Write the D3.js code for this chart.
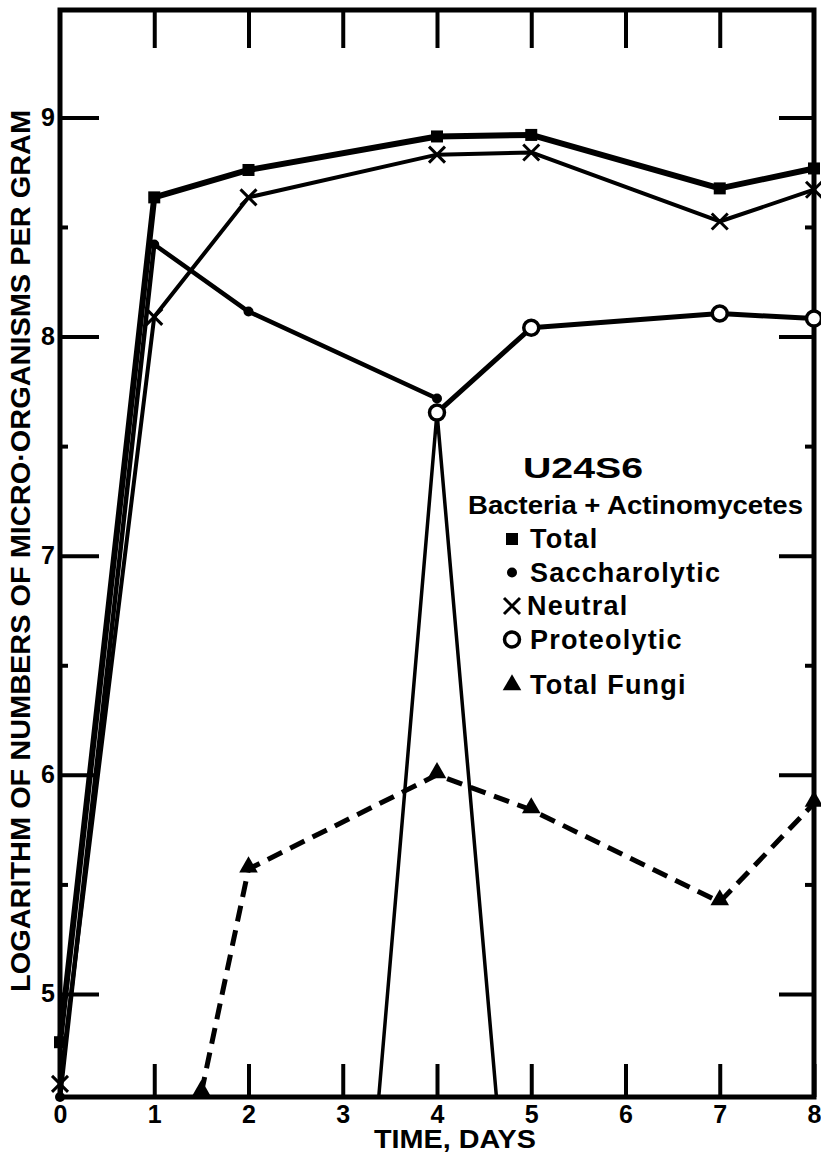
<!DOCTYPE html>
<html>
<head>
<meta charset="utf-8">
<script src="https://cdn.jsdelivr.net/npm/d3@7"></script>
<style>
  body { margin: 0; background: #fff; }
  svg text { font-family: 'Liberation Sans', Arial, sans-serif; font-weight: bold; fill: #000; }
</style>
</head>
<body>
<svg id="chart" width="821" height="1153"></svg>
<script>
// values (log10 numbers per gram)
var days_bact = [0, 1, 2, 4, 5, 7, 8];
var total = [4.78, 8.635, 8.76, 8.913, 8.92, 8.676, 8.767];
var neutral = [4.59, 8.09, 8.635, 8.83, 8.84, 8.525, 8.67];
var days_sacch = [0, 1, 2, 4];
var saccharolytic = [4.53, 8.42, 8.114, 7.717];
var days_proteo = [4, 5, 7, 8];
var proteolytic = [7.653, 8.04, 8.105, 8.082];
var days_spike = [3, 4, 5];
var spike = [2.6, 7.653, 2.7];
var days_fungi = [1.5, 2, 4, 5, 7, 8];
var fungi = [4.55, 5.57, 6.0, 5.84, 5.42, 5.87];

var x_ticks = [0, 1, 2, 3, 4, 5, 6, 7, 8];
var y_major = [5, 6, 7, 8, 9];
var y_minor = [5.5, 6.5, 7.5, 8.5];

var legend_title = 'U24S6';
var legend_sub = 'Bacteria + Actinomycetes';
var legend_labels = ['Total', 'Saccharolytic', 'Neutral', 'Proteolytic', 'Total Fungi'];
var legend_marks = ['square', 'dot', 'cross', 'ring', 'triangle'];

var svg = d3.select('#chart');
var plot = { left: 60, right: 814, top: 10, bottom: 1097 };

var x = d3.scaleLinear().domain([0, 8]).range([plot.left, plot.right]);
var y = d3.scaleLinear().domain([4.53, 9.49]).range([plot.bottom, plot.top]);

svg.append('defs').append('clipPath').attr('id', 'plot')
  .append('rect')
  .attr('x', plot.left).attr('y', plot.top)
  .attr('width', plot.right - plot.left).attr('height', plot.bottom - plot.top);

function zip(xs, ys) {
  return xs.map(function(d, i) { return [d, ys[i]]; });
}

// axes with inward ticks
function styleAxis(g) {
  g.select('.domain').remove();
  g.selectAll('.tick line').attr('stroke', '#000').attr('stroke-width', 4);
  g.selectAll('.tick text').attr('fill', '#000')
    .style('font-size', '25px').style('font-family', "'Liberation Sans', Arial, sans-serif")
    .style('font-weight', 'bold');
}

svg.append('g').attr('transform', 'translate(' + plot.left + ',0)')
  .call(d3.axisLeft(y).tickValues(y_major).tickSize(-39).tickPadding(5).tickFormat(d3.format('d')))
  .call(styleAxis);
svg.append('g').attr('transform', 'translate(' + plot.left + ',0)')
  .call(d3.axisLeft(y).tickValues(y_minor).tickSize(-8).tickFormat(''))
  .call(styleAxis);
svg.append('g').attr('transform', 'translate(' + plot.right + ',0)')
  .call(d3.axisRight(y).tickValues(y_major).tickSize(-35).tickFormat(''))
  .call(styleAxis);
svg.append('g').attr('transform', 'translate(' + plot.right + ',0)')
  .call(d3.axisRight(y).tickValues(y_minor).tickSize(-9).tickFormat(''))
  .call(styleAxis);
svg.append('g').attr('transform', 'translate(0,' + plot.bottom + ')')
  .call(d3.axisBottom(x).tickValues(x_ticks).tickSize(-33).tickPadding(8).tickFormat(d3.format('d')))
  .call(styleAxis);
svg.append('g').attr('transform', 'translate(0,' + plot.top + ')')
  .call(d3.axisTop(x).tickValues(x_ticks.slice(1, -1)).tickSize(-38).tickFormat(''))
  .call(styleAxis);

svg.append('rect')
  .attr('x', plot.left).attr('y', plot.top)
  .attr('width', plot.right - plot.left).attr('height', plot.bottom - plot.top)
  .attr('fill', 'none').attr('stroke', '#000').attr('stroke-width', 5);

// axis titles
svg.append('text')
  .attr('transform', 'translate(30,551) rotate(-90)')
  .attr('text-anchor', 'middle')
  .attr('textLength', 882).attr('lengthAdjust', 'spacingAndGlyphs')
  .style('font-size', '27px')
  .text('LOGARITHM OF NUMBERS OF MICRO\u00B7ORGANISMS PER GRAM');

svg.append('text')
  .attr('x', 455).attr('y', 1148)
  .attr('text-anchor', 'middle')
  .attr('textLength', 162).attr('lengthAdjust', 'spacingAndGlyphs')
  .style('font-size', '25px')
  .text('TIME, DAYS');

// lines
var line = d3.line().x(function(d) { return x(d[0]); }).y(function(d) { return y(d[1]); });

var series = [
  { pts: zip(days_spike, spike), width: 3.5, dash: null, mark: null, clip: true },
  { pts: zip(days_fungi, fungi), width: 5, dash: '16,9', mark: 'triangle' },
  { pts: zip(days_sacch, saccharolytic), width: 4.5, dash: null, mark: 'dot' },
  { pts: zip(days_proteo, proteolytic), width: 5, dash: null, mark: 'ring' },
  { pts: zip(days_bact, neutral), width: 4, dash: null, mark: 'cross' },
  { pts: zip(days_bact, total), width: 6, dash: null, mark: 'square' }
];

series.forEach(function(s) {
  svg.append('path')
    .datum(s.pts)
    .attr('d', line)
    .attr('fill', 'none')
    .attr('stroke', '#000')
    .attr('stroke-width', s.width)
    .attr('stroke-linejoin', 'round')
    .attr('stroke-dasharray', s.dash)
    .attr('clip-path', s.clip ? 'url(#plot)' : null);
});

function drawMark(g, type, cx, cy) {
  if (type === 'square') {
    g.append('rect').attr('x', cx - 6).attr('y', cy - 6).attr('width', 12).attr('height', 12).attr('fill', '#000');
  } else if (type === 'dot') {
    g.append('circle').attr('cx', cx).attr('cy', cy).attr('r', 5).attr('fill', '#000');
  } else if (type === 'cross') {
    g.append('path')
      .attr('d', 'M' + (cx - 8) + ',' + (cy - 8) + 'L' + (cx + 8) + ',' + (cy + 8) +
                 'M' + (cx - 8) + ',' + (cy + 8) + 'L' + (cx + 8) + ',' + (cy - 8))
      .attr('stroke', '#000').attr('stroke-width', 3);
  } else if (type === 'ring') {
    g.append('circle').attr('cx', cx).attr('cy', cy).attr('r', 7.5)
      .attr('fill', '#fff').attr('stroke', '#000').attr('stroke-width', 3.5);
  } else if (type === 'triangle') {
    g.append('path')
      .attr('transform', 'translate(' + cx + ',' + (cy - 2) + ')')
      .attr('d', d3.symbol(d3.symbolTriangle).size(150)())
      .attr('fill', '#000');
  }
}

var marks = svg.append('g');
series.forEach(function(s) {
  if (!s.mark) return;
  s.pts.forEach(function(p) { drawMark(marks, s.mark, x(p[0]), y(p[1])); });
});

// legend
var lg = svg.append('g');
lg.append('text').attr('x', 523).attr('y', 478)
  .attr('textLength', 120).attr('lengthAdjust', 'spacingAndGlyphs')
  .style('font-size', '30px').text(legend_title);
lg.append('text').attr('x', 468).attr('y', 514)
  .attr('textLength', 335).attr('lengthAdjust', 'spacingAndGlyphs')
  .style('font-size', '26px').text(legend_sub);

legend_labels.forEach(function(name, i) {
  var ly = 539 + i * 33.5 + (i === 4 ? 12 : 0);
  drawMark(lg, legend_marks[i], 512, ly + (legend_marks[i] === 'triangle' ? 2 : 0));
  lg.append('text').attr('x', legend_marks[i] === 'cross' ? 527 : 530).attr('y', ly + 9)
    .style('font-size', '27px').style('letter-spacing', '1.2px').text(name);
});
</script>
</body>
</html>
